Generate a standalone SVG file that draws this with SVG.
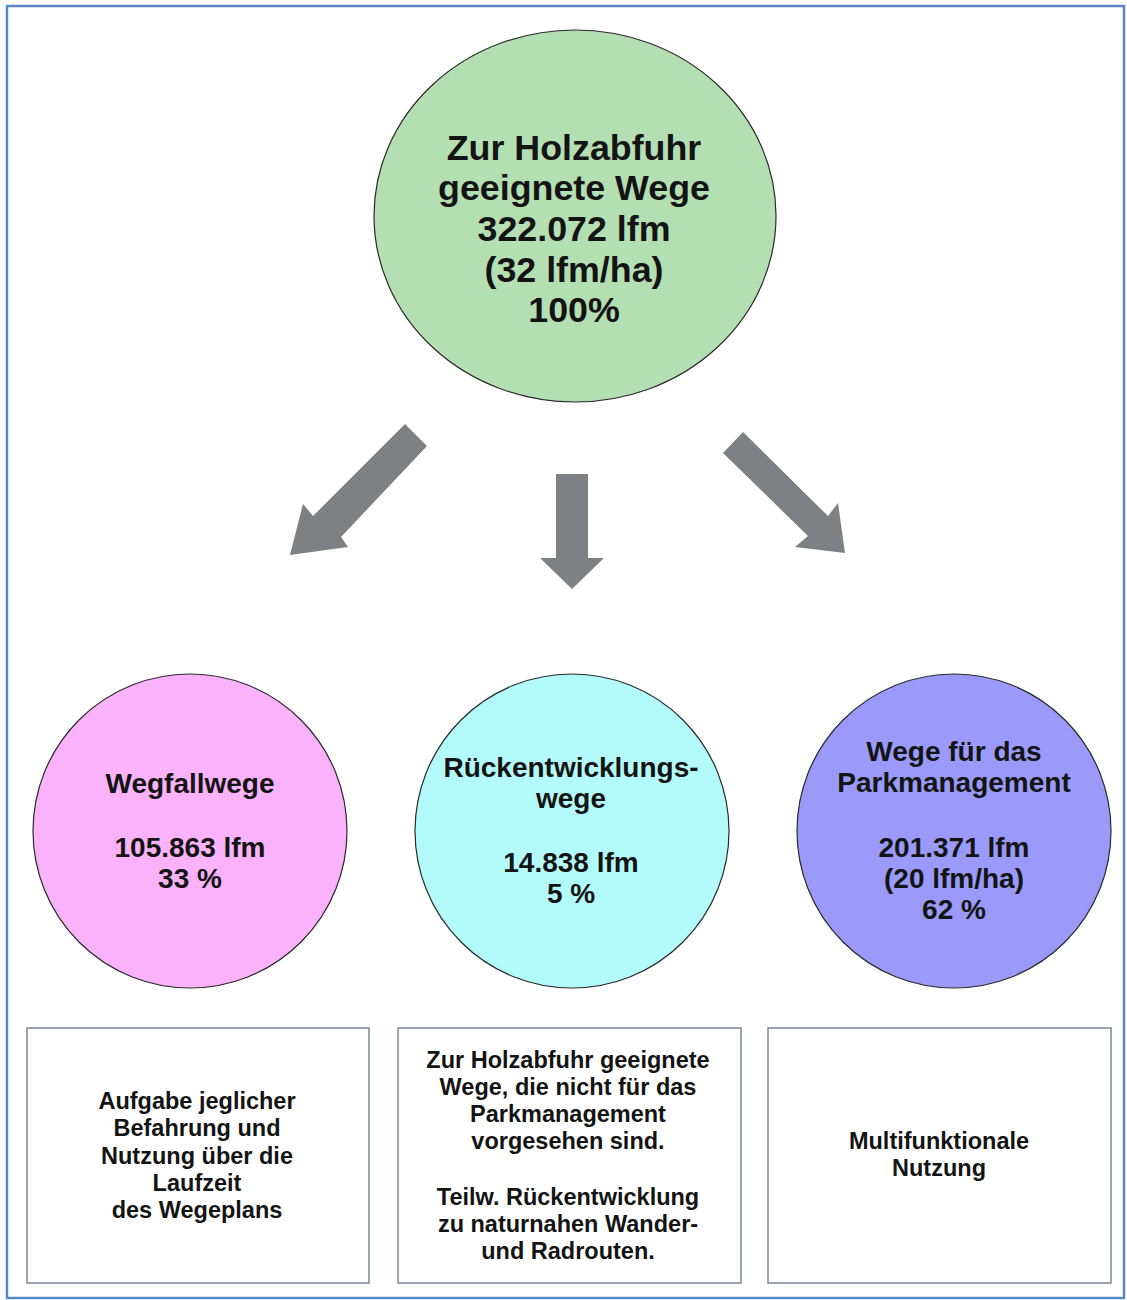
<svg xmlns="http://www.w3.org/2000/svg" width="1127" height="1300" viewBox="0 0 1127 1300">
  <style>
    .t { font-family: "Liberation Sans", Arial, sans-serif; font-weight: bold; fill: #141414; text-anchor: middle; }
    .big { font-size: 35.8px; }
    .mid { font-size: 28px; }
    .small { font-size: 23.5px; }
    .circ { stroke: #2a2a2a; stroke-width: 1.2; }
    .box { fill: #ffffff; stroke: #7b8794; stroke-width: 1.5; }
    .arrow { fill: #7f8084; }
  </style>
  <rect x="0" y="0" width="1127" height="1300" fill="#ffffff"/>
  <rect x="7" y="6" width="1117" height="1292" fill="none" stroke="#5b87c8" stroke-width="2.5"/>

  <g id="top">
    <ellipse class="circ" cx="575" cy="216" rx="201" ry="186" fill="#b4dfb3"/>
    <text class="t big" x="574" y="160">Zur Holzabfuhr</text>
    <text class="t big" x="574" y="200">geeignete Wege</text>
    <text class="t big" x="574" y="241">322.072 lfm</text>
    <text class="t big" x="574" y="282">(32 lfm/ha)</text>
    <text class="t big" x="574" y="322">100%</text>
  </g>

  <g id="connectors">
    <polygon class="arrow" points="405,424 427,446 341,537 348,547 290,555 303,504 313,516"/>
    <polygon class="arrow" points="556,474 588,474 588,558 604,558 572,589 540,558 556,558"/>
    <polygon class="arrow" points="743,432 828,516 838,503 845,553 795,547 808,536 723,453"/>
  </g>

  <g id="wegfallwege">
    <circle class="circ" cx="190" cy="831" r="157" fill="#fab3fa"/>
    <text class="t mid" x="190" y="793">Wegfallwege</text>
    <text class="t mid" x="190" y="857">105.863 lfm</text>
    <text class="t mid" x="190" y="888">33 %</text>
  </g>

  <g id="rueckentwicklungswege">
    <circle class="circ" cx="572" cy="831" r="157" fill="#b3fbfb"/>
    <text class="t mid" x="571" y="777">Rückentwicklungs-</text>
    <text class="t mid" x="571" y="808">wege</text>
    <text class="t mid" x="571" y="872">14.838 lfm</text>
    <text class="t mid" x="571" y="903">5 %</text>
  </g>

  <g id="parkmanagement">
    <circle class="circ" cx="954" cy="831" r="157" fill="#9a9afa"/>
    <text class="t mid" x="954" y="761">Wege für das</text>
    <text class="t mid" x="954" y="792">Parkmanagement</text>
    <text class="t mid" x="954" y="857">201.371 lfm</text>
    <text class="t mid" x="954" y="888">(20 lfm/ha)</text>
    <text class="t mid" x="954" y="919">62 %</text>
  </g>

  <g id="box-left">
    <rect class="box" x="27" y="1028" width="342" height="255"/>
    <text class="t small" x="197" y="1109">Aufgabe jeglicher</text>
    <text class="t small" x="197" y="1136">Befahrung und</text>
    <text class="t small" x="197" y="1164">Nutzung über die</text>
    <text class="t small" x="197" y="1191">Laufzeit</text>
    <text class="t small" x="197" y="1218">des Wegeplans</text>
  </g>

  <g id="box-middle">
    <rect class="box" x="398" y="1028" width="343" height="255"/>
    <text class="t small" x="568" y="1068">Zur Holzabfuhr geeignete</text>
    <text class="t small" x="568" y="1095">Wege, die nicht für das</text>
    <text class="t small" x="568" y="1122">Parkmanagement</text>
    <text class="t small" x="568" y="1149">vorgesehen sind.</text>
    <text class="t small" x="568" y="1205">Teilw. Rückentwicklung</text>
    <text class="t small" x="568" y="1232">zu naturnahen Wander-</text>
    <text class="t small" x="568" y="1259">und Radrouten.</text>
  </g>

  <g id="box-right">
    <rect class="box" x="768" y="1028" width="343" height="255"/>
    <text class="t small" x="939" y="1149">Multifunktionale</text>
    <text class="t small" x="939" y="1176">Nutzung</text>
  </g>
</svg>
